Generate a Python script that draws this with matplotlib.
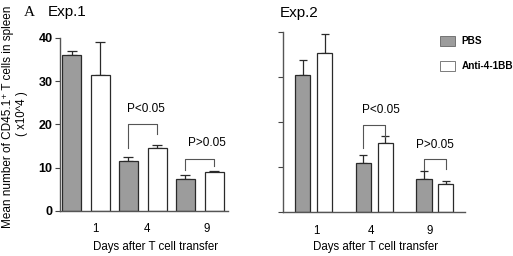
import matplotlib
matplotlib.use("Agg")
import matplotlib.pyplot as plt

plt.rcParams['font.family'] = ['Liberation Sans', 'DejaVu Sans']

days = ["1", "4", "9"]

# Exp.1
pbs1 = [36.1, 11.5, 7.4]
pbs1_err = [0.8, 0.9, 0.8]
anti1 = [31.5, 14.5, 8.9]
anti1_err = [7.5, 0.8, 0.4]

# Exp.2
pbs2 = [30.4, 10.8, 7.4]
pbs2_err = [3.4, 1.9, 1.8]
anti2 = [35.3, 15.3, 6.3]
anti2_err = [4.1, 1.5, 0.7]

# significance brackets: (group, top, left leg end, right leg end, label, label y)
brackets1 = [(1, 20.2, 14.6, 17.9, "P<0.05", 23.5), (2, 12.0, 9.5, 10.5, "P>0.05", 15.7)]
brackets2 = [(1, 19.3, 14.3, 16.7, "P<0.05", 22.6), (2, 11.7, 9.4, 9.6, "P>0.05", 14.9)]

GRAY = '#9c9c9c'
EDGE = '#2a2a2a'

fig = plt.figure(figsize=(5.13, 2.56), dpi=100)
ax1 = fig.add_axes([0.117, 0.176, 0.327, 0.676])
ax2 = fig.add_axes([0.551, 0.171, 0.356, 0.705])


def draw(ax, pbs, pbs_err, anti, anti_err, brackets, off, width, cap, xlim, ticks, text_dx):
    x = list(range(len(days)))
    xg = [i - off for i in x]
    xw = [i + off for i in x]
    ax.bar(xg, pbs, width, color=GRAY, edgecolor=EDGE, linewidth=0.9, zorder=2)
    ax.bar(xw, anti, width, color='white', edgecolor=EDGE, linewidth=0.9, zorder=2)
    ax.errorbar(xg, pbs, yerr=[[0] * 3, pbs_err], fmt='none', ecolor=EDGE,
                elinewidth=0.9, capsize=cap, capthick=0.9, zorder=1)
    ax.errorbar(xw, anti, yerr=[[0] * 3, anti_err], fmt='none', ecolor=EDGE,
                elinewidth=0.9, capsize=cap, capthick=0.9, zorder=1)
    for g, top, lo_l, lo_r, lab, ty in brackets:
        ax.plot([g - off, g - off, g + off, g + off], [lo_l, top, top, lo_r],
                color='#555555', lw=0.8)
        ax.text(g + text_dx[g - 1], ty, lab, ha='center', va='center', fontsize=8.5)
    ax.set_xlim(*xlim)
    ax.set_ylim(0, 40)
    ax.set_yticks([0, 10, 20, 30, 40])
    ax.set_xticks(ticks)
    ax.set_xticklabels(days, fontsize=8.3)
    ax.tick_params(axis='x', length=0, pad=9)
    ax.tick_params(axis='y', length=3.5, width=0.8, color='#444444')
    for s in ['top', 'right']:
        ax.spines[s].set_visible(False)
    for s in ['left', 'bottom']:
        ax.spines[s].set_color('#555555')
        ax.spines[s].set_linewidth(1.0)


draw(ax1, pbs1, pbs1_err, anti1, anti1_err, brackets1, 0.254, 0.33, 3.5,
     (-0.456, 2.49), [0.17, 1.08, 2.12], [0.05, 0.12])
draw(ax2, pbs2, pbs2_err, anti2, anti2_err, brackets2, 0.18, 0.25, 3.0,
     (-0.51, 2.5), [0.05, 0.94, 1.92], [0.11, 0.0])

ax1.set_yticklabels(["0", "10", "20", "30", "40"], fontsize=9, fontweight='bold')
ax1.tick_params(axis='y', pad=2)
ax2.set_yticklabels([])

fig.text(155.5 / 513, 1 - 247 / 256, "Days after T cell transfer", ha='center',
         va='center', fontsize=8.3)
fig.text(375.5 / 513, 1 - 247 / 256, "Days after T cell transfer", ha='center',
         va='center', fontsize=8.3)

fig.text(0.016, 0.545, "Mean number of CD45.1\u207a T cells in spleen", rotation=90,
         ha='center', va='center', fontsize=8.5)
fig.text(0.043, 0.555, "( x10^4 )", rotation=90, ha='center', va='center', fontsize=8.3)

fig.text(0.057, 0.953, "A", ha='center', va='center', fontsize=11,
         family=['Liberation Serif', 'DejaVu Serif'])
fig.text(0.094, 0.953, "Exp.1", ha='left', va='center', fontsize=11)
fig.text(0.546, 0.95, "Exp.2", ha='left', va='center', fontsize=11)

# legend
fig.patches.append(plt.Rectangle((440 / 513, 1 - 45.7 / 256), 15 / 513, 9.7 / 256,
                                 transform=fig.transFigure, facecolor=GRAY,
                                 edgecolor='#666666', linewidth=0.6))
fig.patches.append(plt.Rectangle((440 / 513, 1 - 71 / 256), 15 / 513, 10.3 / 256,
                                 transform=fig.transFigure, facecolor='white',
                                 edgecolor='#666666', linewidth=0.6))
fig.text(461.5 / 513, 1 - 41 / 256, "PBS", ha='left', va='center', fontsize=7.2,
         fontweight='bold')
fig.text(461.5 / 513, 1 - 66 / 256, "Anti-4-1BB", ha='left', va='center', fontsize=7.2,
         fontweight='bold')

fig.savefig("out.png", dpi=100)
